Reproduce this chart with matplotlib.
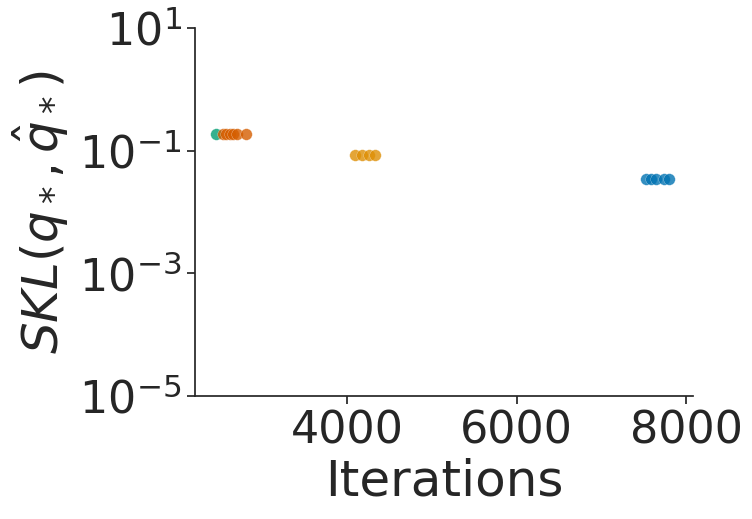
import matplotlib
matplotlib.use('Agg')
import matplotlib.pyplot as plt
import seaborn as sns

# Iterations and SKL values per run
green_iters = [2460]
green_skl = [0.185]

red_iters = [2540, 2580, 2620, 2660, 2700, 2810]
red_skl = [0.185, 0.185, 0.185, 0.185, 0.185, 0.185]

orange_iters = [4100, 4180, 4260, 4330]
orange_skl = [0.085, 0.085, 0.085, 0.085]

blue_iters = [7530, 7580, 7640, 7740, 7800]
blue_skl = [0.034, 0.034, 0.034, 0.034, 0.034]

sns.set_style('ticks')
pal = sns.color_palette('colorblind')

fig = plt.figure(figsize=(7.52, 5.19), dpi=100)
ax = fig.add_axes([0.259, 0.237, 0.663, 0.709])

kw = dict(s=70, alpha=0.8, edgecolor='white', linewidth=0.2)
ax.scatter(green_iters, green_skl, color=pal[2], **kw)
ax.scatter(red_iters, red_skl, color=pal[3], **kw)
ax.scatter(orange_iters, orange_skl, color=pal[1], **kw)
ax.scatter(blue_iters, blue_skl, color=pal[0], **kw)

ax.set_yscale('log')
ax.set_ylim(1e-5, 1e1)
ax.set_yticks([1e-5, 1e-3, 1e-1, 1e1])
ax.minorticks_off()
ax.set_xlim(2206, 8083)
ax.set_xticks([4000, 6000, 8000])

ax.tick_params(labelsize=32, colors='#262626', length=6, width=1.25)
ax.set_xlabel('Iterations', fontsize=36, color='#262626', labelpad=4)
ax.set_ylabel(r'$SKL(q_*, \hat{q}_*)$', fontsize=36, color='#262626', labelpad=6)

for s in ['left', 'bottom']:
    ax.spines[s].set_color('#262626')
    ax.spines[s].set_linewidth(1.25)
sns.despine(ax=ax)

fig.savefig('out.png', dpi=100)
